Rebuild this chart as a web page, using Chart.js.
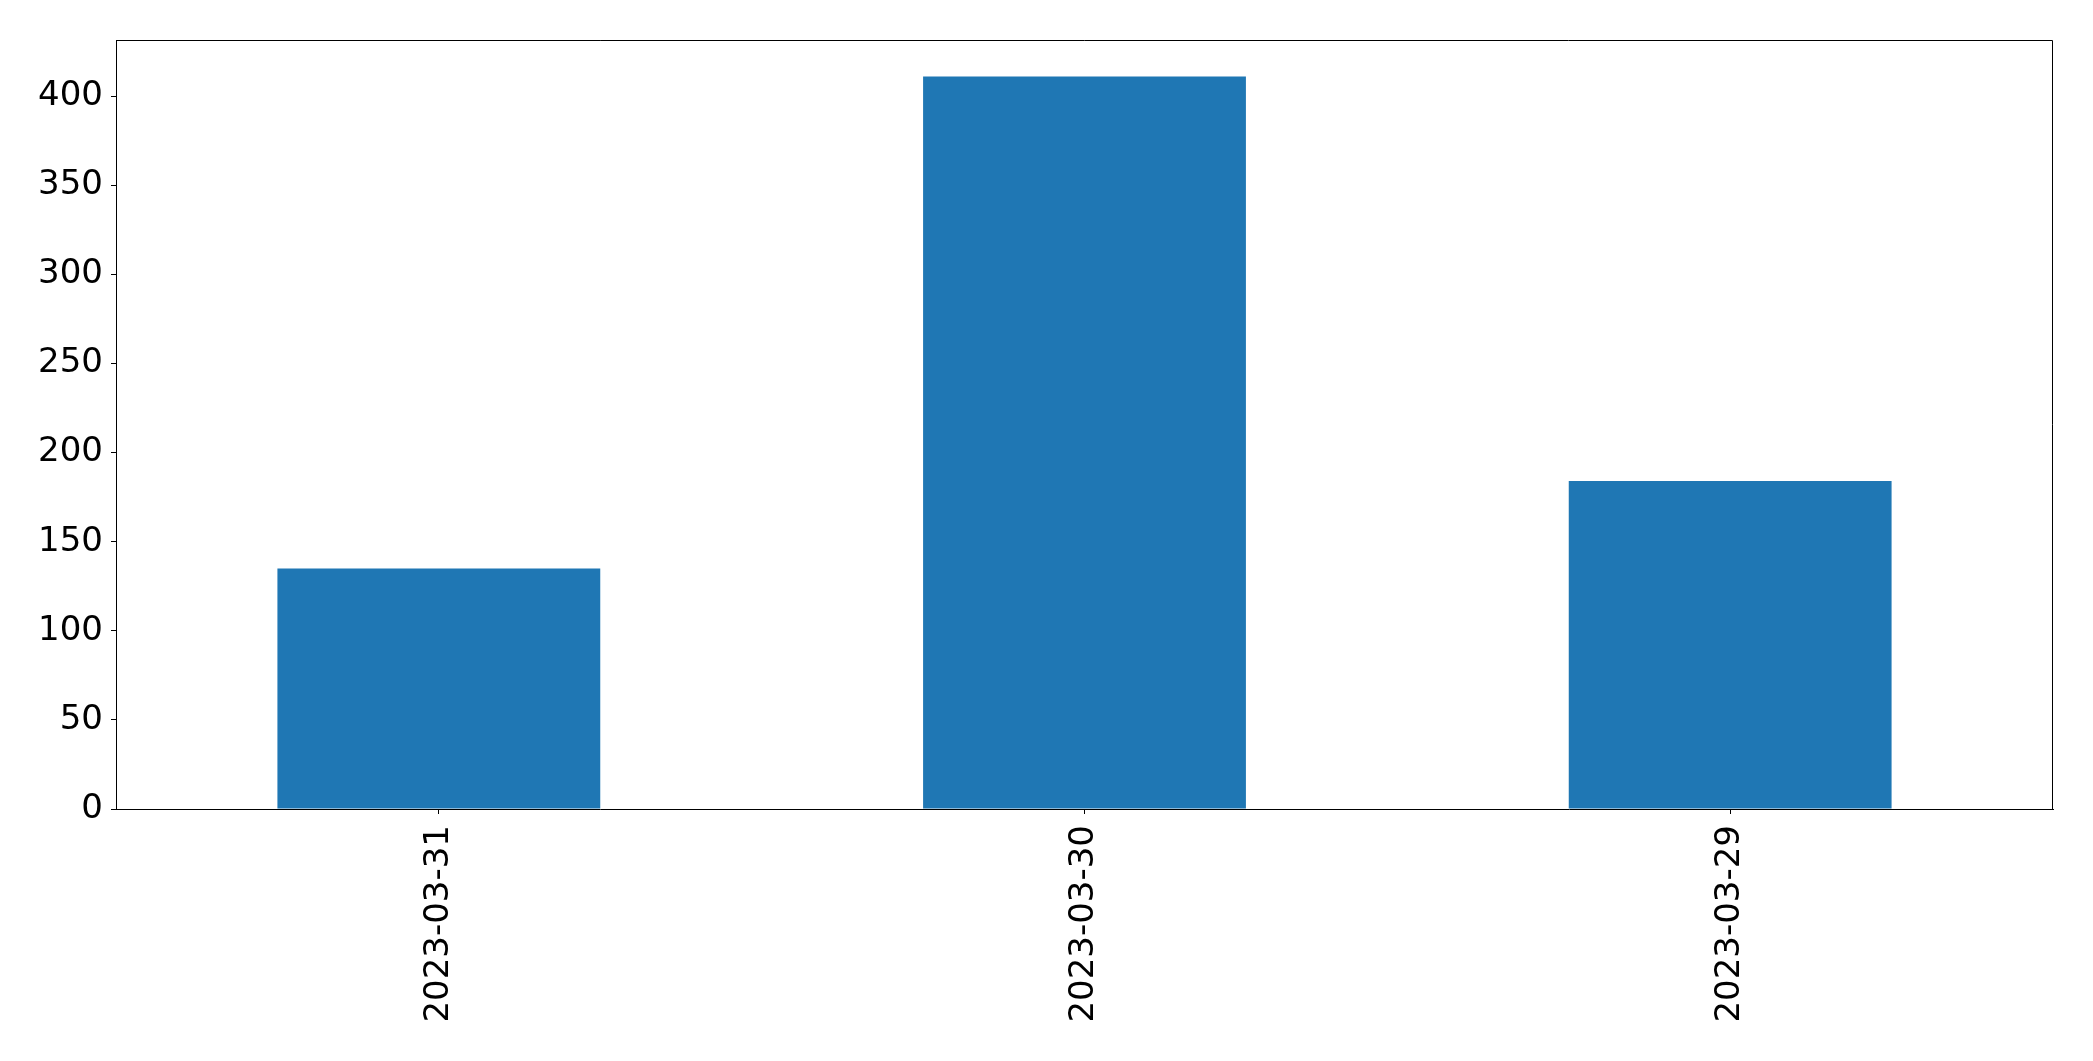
<!DOCTYPE html>
<html>
<head>
<meta charset="utf-8">
<script src="https://cdn.jsdelivr.net/npm/chart.js@4/dist/chart.umd.min.js"></script>
<style>
  html, body { margin: 0; padding: 0; background: #fff; }
  #wrap { width: 2093px; height: 1061px; }
</style>
</head>
<body>
<div id="wrap"><canvas id="chart" width="2093" height="1061"></canvas></div>
<script>
/* Data */
var dates = ['2023-03-31', '2023-03-30', '2023-03-29'];
var counts = [135, 411, 184];
var yTicks = [0, 50, 100, 150, 200, 250, 300, 350, 400];
var yMax = 431.55;

/* draws the top and right edges of the axes frame */
var frame = {
  id: 'frame',
  afterDraw: function(chart) {
    var a = chart.chartArea, ctx = chart.ctx;
    ctx.save();
    ctx.strokeStyle = '#000';
    ctx.lineWidth = 1;
    ctx.beginPath();
    ctx.moveTo(a.left, a.top + 0.5);
    ctx.lineTo(a.right - 0.5, a.top + 0.5);
    ctx.lineTo(a.right - 0.5, a.bottom);
    ctx.stroke();
    ctx.restore();
  }
};

Chart.defaults.font.family = 'DejaVu Sans';
Chart.defaults.font.size = 34;
Chart.defaults.color = '#000';

var ctx = document.getElementById('chart');
var barChart = new Chart(ctx, {
  type: 'bar',
  data: {
    labels: dates,
    datasets: [{
      data: counts,
      backgroundColor: '#1f77b4',
      barPercentage: 0.5,
      categoryPercentage: 1.0
    }]
  },
  options: {
    responsive: false,
    animation: false,
    layout: { padding: { top: 40, right: 40, left: 0, bottom: 0 } },
    plugins: { legend: { display: false }, tooltip: { enabled: false } },
    scales: {
      x: {
        grid: { display: true, offset: false, drawOnChartArea: false, drawTicks: true, tickLength: 5, color: '#000' },
        border: { display: true, color: '#000', width: 1 },
        ticks: { minRotation: 90, maxRotation: 90, padding: 11 },
        afterFit: function(scale) { scale.height = 1061 - 809; }
      },
      y: {
        min: 0,
        max: yMax,
        grid: { display: true, drawOnChartArea: false, drawTicks: true, tickLength: 5, color: '#000' },
        border: { display: true, color: '#000', width: 1 },
        ticks: { padding: 8 },
        afterBuildTicks: function(scale) {
          scale.ticks = yTicks.map(function(v) { return { value: v }; });
        },
        afterFit: function(scale) { scale.width = 116; }
      }
    }
  },
  plugins: [frame]
});
</script>
</body>
</html>
